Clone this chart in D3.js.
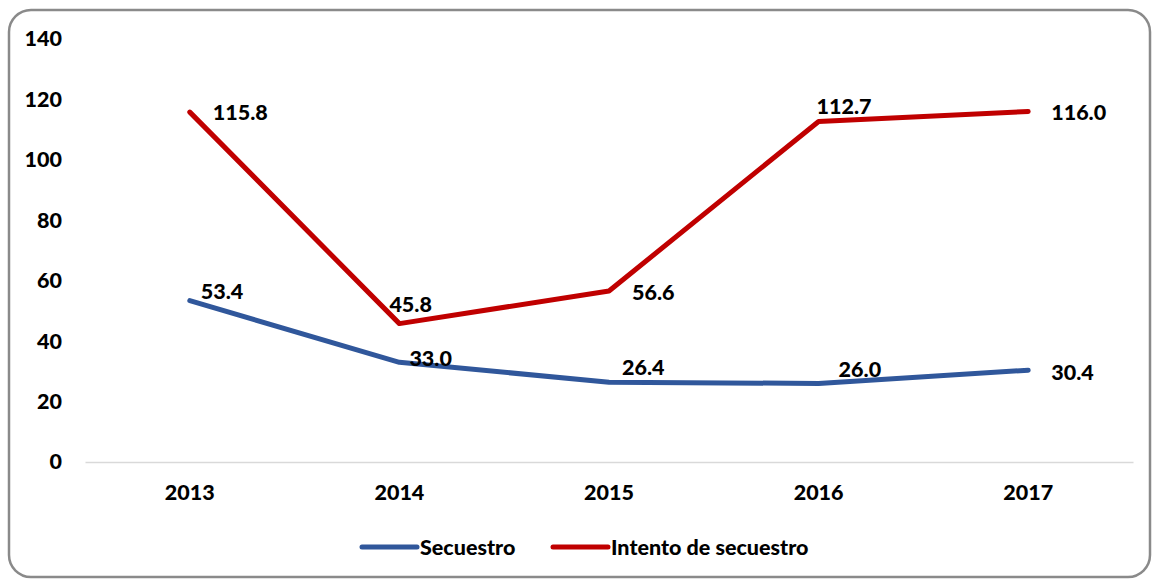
<!DOCTYPE html>
<html>
<head>
<meta charset="UTF-8">
<script src="https://cdn.jsdelivr.net/npm/d3@7"></script>
<style>
    body { margin: 0; background: white; }
    text { font-family: Lato, "Open Sans", sans-serif; font-weight: 900; fill: #000; }
</style>
</head>
<body>
<div id="chart"></div>
<script>
    const years = ['2013', '2014', '2015', '2016', '2017'];
    const secuestro = [53.4, 33.0, 26.4, 26.0, 30.4];
    const intento = [115.8, 45.8, 56.6, 112.7, 116.0];
    const yTicks = [0, 20, 40, 60, 80, 100, 120, 140];

    // label nudges (px), one per point
    const secDx = [11, 10, 13, 20, 23], secDy = [-9, -4, -15, -14, 2];
    const intDx = [23, -10, 23, -2, 23], intDy = [0, -19, 1, -15, 1];

    const w = 1157, h = 583;
    const fs = '21.5px';

    const svg = d3.select('#chart').append('svg')
        .attr('width', w)
        .attr('height', h);

    svg.append('rect')
        .attr('x', 9).attr('y', 10)
        .attr('width', 1141).attr('height', 567)
        .attr('rx', 22)
        .attr('fill', 'white')
        .attr('stroke', '#8a8a8a')
        .attr('stroke-width', 2.5);

    const x = d3.scaleBand()
        .domain(years)
        .range([85, 1133]);
    const y = d3.scaleLinear()
        .domain([0, 140])
        .range([462, 39]);

    // x axis
    const xAxis = svg.append('g')
        .attr('transform', `translate(0, ${y(0)})`)
        .call(d3.axisBottom(x).tickSize(0).tickPadding(23));
    xAxis.select('.domain').attr('stroke', '#d9d9d9').attr('stroke-width', 1.5);
    xAxis.selectAll('text').style('font-size', fs).style('font-family', 'Lato, sans-serif');

    // y axis (labels only)
    const yAxis = svg.append('g')
        .attr('transform', 'translate(62, 0)')
        .call(d3.axisLeft(y).tickValues(yTicks).tickSize(0).tickPadding(0));
    yAxis.select('.domain').remove();
    yAxis.selectAll('text').style('font-size', fs).style('font-family', 'Lato, sans-serif');

    const cx = d => x(d) + x.bandwidth() / 2;

    const line = d3.line()
        .x((d, i) => cx(years[i]))
        .y(d => y(d));

    const series = [
        { name: 'Secuestro', values: secuestro, color: '#30579b', dx: secDx, dy: secDy },
        { name: 'Intento de secuestro', values: intento, color: '#c00000', dx: intDx, dy: intDy }
    ];

    series.forEach(s => {
        svg.append('path')
            .datum(s.values)
            .attr('d', line)
            .attr('fill', 'none')
            .attr('stroke', s.color)
            .attr('stroke-width', 5)
            .attr('stroke-linecap', 'round')
            .attr('stroke-linejoin', 'round');

        svg.selectAll(null)
            .data(s.values)
            .enter()
            .append('text')
            .attr('x', (d, i) => cx(years[i]) + s.dx[i])
            .attr('y', (d, i) => y(d) + s.dy[i])
            .attr('dy', '0.35em')
            .style('font-size', fs)
            .text(d => d.toFixed(1));
    });

    // legend
    const legend = svg.append('g').attr('transform', 'translate(0, 547)');
    const legX = [362, 553];
    series.forEach((s, i) => {
        legend.append('line')
            .attr('x1', legX[i]).attr('x2', legX[i] + 55)
            .attr('y1', 0).attr('y2', 0)
            .attr('stroke', s.color)
            .attr('stroke-width', 5)
            .attr('stroke-linecap', 'round');
        legend.append('text')
            .attr('x', legX[i] + 58)
            .attr('y', 0)
            .attr('dy', '0.35em')
            .style('font-size', fs)
            .text(s.name);
    });
</script>
</body>
</html>
